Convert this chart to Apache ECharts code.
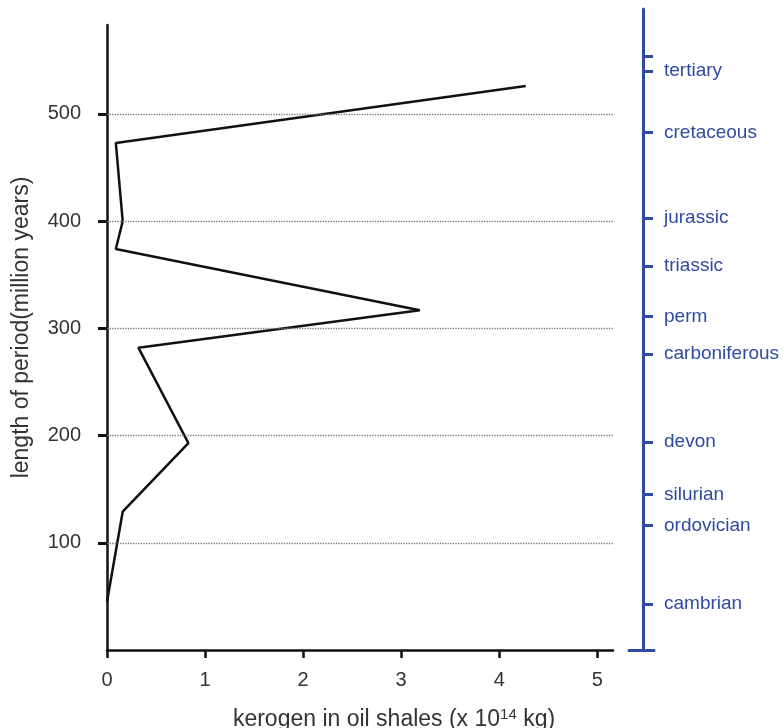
<!DOCTYPE html>
<html>
<head>
<meta charset="utf-8">
<script src="https://cdn.jsdelivr.net/npm/echarts@6/dist/echarts.min.js"></script>
<style>
    html, body, #main { width: 100%; height: 100%; margin: 0; background: #fff; }
</style>
</head>
<body>
<div id="main"></div>
<script>
// kerogen (x 10^14 kg) against length of period (million years), bottom to top
var kerogen = [0, 0.16, 0.83, 0.32, 3.19, 0.09, 0.16, 0.09, 4.27];
var period  = [45, 129, 193, 282, 317, 374, 400, 473, 526];

var xTicks = [0, 1, 2, 3, 4, 5];
var yTicks = [100, 200, 300, 400, 500];

// geological periods on the right hand scale
var eraNames  = ['cambrian', 'ordovician', 'silurian', 'devon', 'carboniferous',
                 'perm', 'triassic', 'jurassic', 'cretaceous', 'tertiary'];
var eraValues = [43, 116, 145, 194, 276, 311, 358, 403, 483, 540];
var eraExtraTicks = [554];

var font = 'Liberation Sans';
var blue = '#2f4b9f';

var lineData = kerogen.map(function (k, i) { return [k, period[i]]; });
var eraLookup = {};
eraValues.forEach(function (v, i) { eraLookup[v] = eraNames[i]; });

var chart = echarts.init(document.getElementById('main'));
var option = {
    animation: false,
    backgroundColor: '#fff',
    grid: [
        { left: 107, right: 171, top: 25, bottom: 78, outerBoundsMode: 'none' },
        { left: 629, right: 130, top: 9, bottom: 78, outerBoundsMode: 'none' }
    ],
    xAxis: [{
        gridIndex: 0,
        type: 'value',
        min: 0,
        max: 5.16,
        name: 'kerogen in oil shales (x 10{sup|14} kg)',
        nameLocation: 'middle',
        nameGap: 57,
        nameTextStyle: {
            fontFamily: font, fontSize: 23, color: '#333',
            padding: [0, 0, 0, 68],
            rich: { sup: { fontFamily: font, fontSize: 15, color: '#333', padding: [0, 0, 11, 0] } }
        },
        axisLine: { show: true, lineStyle: { color: '#111', width: 2.5 } },
        axisTick: { show: true, length: 8, customValues: xTicks, lineStyle: { color: '#111', width: 2.5 } },
        axisLabel: { customValues: xTicks, margin: 20, fontFamily: font, fontSize: 20, color: '#333' },
        splitLine: { show: false }
    }, {
        gridIndex: 1,
        type: 'value',
        min: 0,
        max: 1,
        axisLine: { show: true, onZero: false, lineStyle: { color: blue, width: 3 } },
        axisTick: { show: false },
        axisLabel: { show: false },
        splitLine: { show: false }
    }],
    yAxis: [{
        gridIndex: 0,
        type: 'value',
        min: 0,
        max: 583,
        name: 'length of period(million years)',
        nameLocation: 'middle',
        nameGap: 74,
        nameTextStyle: { fontFamily: font, fontSize: 23, color: '#333', padding: [0, 0, 0, 20] },
        axisLine: { show: true, lineStyle: { color: '#111', width: 2.5 } },
        axisTick: { show: true, length: 9, customValues: yTicks, lineStyle: { color: '#111', width: 3 } },
        axisLabel: { customValues: yTicks, margin: 26, fontFamily: font, fontSize: 20, color: '#333' },
        splitLine: { show: false }
    }, {
        gridIndex: 1,
        type: 'value',
        position: 'right',
        offset: -14,
        min: 0,
        max: 598,
        axisLine: { show: true, lineStyle: { color: blue, width: 3 } },
        axisTick: {
            show: true, length: 10,
            customValues: eraValues.concat(eraExtraTicks),
            lineStyle: { color: blue, width: 3 }
        },
        axisLabel: {
            customValues: eraValues,
            margin: 24,
            fontFamily: font, fontSize: 19, color: blue,
            formatter: function (v) { return eraLookup[v] || ''; }
        },
        splitLine: { show: false }
    }],
    series: [{
        type: 'line',
        xAxisIndex: 0,
        yAxisIndex: 0,
        data: lineData,
        showSymbol: false,
        symbol: 'none',
        lineStyle: { color: '#111', width: 2.5 },
        markLine: {
            silent: true,
            symbol: 'none',
            label: { show: false },
            lineStyle: { color: '#777', type: 'dotted', width: 1.3 },
            data: yTicks.map(function (v) { return { yAxis: v }; })
        }
    }]
};
chart.setOption(option);
window.onresize = chart.resize;
</script>
</body>
</html>
